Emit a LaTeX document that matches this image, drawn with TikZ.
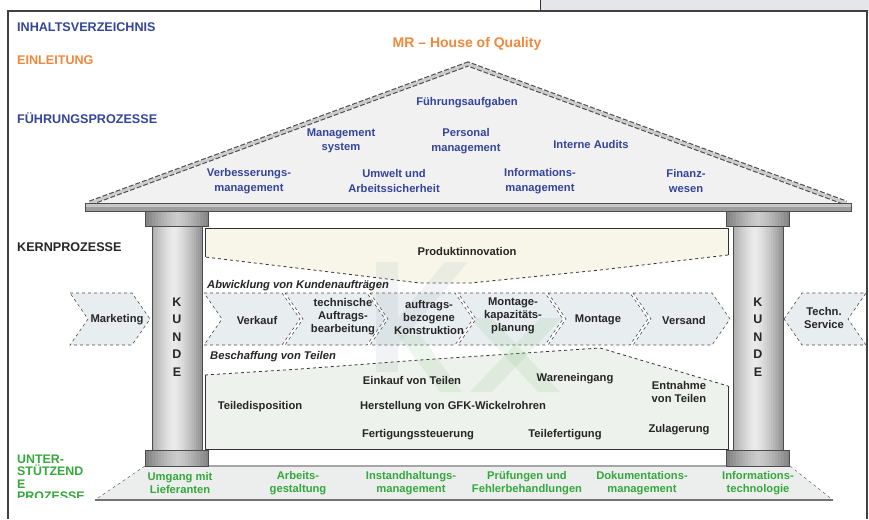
\documentclass[tikz,border=0pt]{standalone}
\usepackage{fontspec}
\setmainfont{Liberation Sans}
\definecolor{myblue}{HTML}{34449A}
\definecolor{myorange}{HTML}{F0883A}
\definecolor{mygreen}{HTML}{34A83A}
\definecolor{cream}{HTML}{F8F6E9}
\definecolor{greenbox}{HTML}{EEF2EC}
\definecolor{chevfill}{HTML}{E8EDF0}
\definecolor{rooffill}{HTML}{F1F1F1}
\definecolor{headgray}{HTML}{E4E6EA}
\definecolor{basefill}{HTML}{ECEEEE}
\definecolor{logogray}{HTML}{9AAAB4}
\definecolor{logogreen}{HTML}{7FBF7F}
\tikzset{
  lbl/.style={font=\bfseries\fontsize{11.2}{13}\selectfont, align=center, inner sep=0pt, text=black!85},
  rooftxt/.style={lbl, text=myblue, font=\bfseries\fontsize{11.2}{14.5}\selectfont},
  basetxt/.style={lbl, text=mygreen, font=\bfseries\fontsize{11.2}{12.5}\selectfont},
  sect/.style={font=\bfseries\fontsize{12.6}{12.6}\selectfont, anchor=west, inner sep=0pt},
  chev/.style={fill=chevfill, draw=black!70, dashed, line width=0.6pt},
  kunde/.style={font=\bfseries\fontsize{12.5}{12.5}\selectfont, inner sep=0pt, text=black!85},
  frameline/.style={black!75, line width=1.2pt},
}
\begin{document}
\begin{tikzpicture}[x=1pt,y=-1pt]
\useasboundingbox (0,0) rectangle (869,519);
% header and frame
\fill[headgray] (540,0) rectangle (869,11);
\draw[black!80] (540,0) -- (540,11);
\draw[frameline] (8,519) -- (8,11) -- (867,11) -- (867,519);

% roof
\fill[rooffill] (88,203) -- (468,63) -- (848,203) -- cycle;
\draw[line width=5pt, black!70, dash pattern=on 5pt off 2pt, line join=miter] (90,203) -- (468,64) -- (846,203);
\draw[line width=2.8pt, gray!40, line join=miter] (90,203) -- (468,64) -- (846,203);
\fill[black!22] (85,203) rectangle (851,207);
\fill[black!38] (85,207) rectangle (851,211);
\draw[black!70] (85,203) rectangle (851,211);

% produktinnovation area
\fill[cream] (205,228) -- (728,228) -- (728,255) -- (600,270) -- (470,283) -- (420,283) -- (330,272) -- (205,257) -- cycle;
\draw[black!80, line width=0.8pt] (205,257) -- (205,228) -- (728,228) -- (728,255);
\draw[black!80, dashed, line width=0.8pt] (728,255) -- (600,270) -- (470,283) -- (420,283) -- (330,272) -- (205,257);

% beschaffung area
\fill[greenbox] (205,375) -- (300,369) -- (420,360) -- (600,348) -- (728,386) -- (728,449) -- (205,449) -- cycle;
\draw[black!80, line width=0.8pt] (728,386) -- (728,449) -- (205,449) -- (205,375);
\draw[black!80, dashed, line width=0.8pt] (205,375) -- (300,369) -- (420,360) -- (600,348) -- (728,386);

% chevrons
\draw[chev] (70,293) -- (132,293) -- (150,319) -- (132,345) -- (70,345) -- (88,319) -- cycle;
\foreach \l/\r in {222/300, 303/385, 388/473, 476/563, 566/648, 651/730}
  \draw[chev] ({\l-18},293) -- ({\r-18},293) -- (\r,319) -- ({\r-18},345) -- ({\l-18},345) -- (\l,319) -- cycle;
\draw[chev] (784,319) -- (802,293) -- (866,293) -- (848,319) -- (866,345) -- (802,345) -- cycle;

% faint logo
\begin{scope}[opacity=0.14]
\fill[logogray] (376,262) rectangle (398,372);
\fill[logogray] (398,318) -- (445,262) -- (468,262) -- (398,345) -- cycle;
\fill[logogreen] (398,335) -- (420,335) -- (462,392) -- (440,392) -- cycle;
\fill[logogreen] (470,318) -- (492,318) -- (560,392) -- (538,392) -- cycle;
\fill[logogreen] (540,318) -- (562,318) -- (492,392) -- (470,392) -- cycle;
\end{scope}

% base platform
\fill[basefill] (145,466) -- (790,466) -- (833,500) -- (95,500) -- cycle;
\draw[black!70, dashed] (145,466) -- (95,500);
\draw[black!70, dashed] (790,466) -- (833,500);
\draw[gray!70, line width=1.2pt] (145,466) -- (790,466);
\draw[black!55, line width=2pt] (95,500) -- (833,500);

% pillars
\foreach \c in {177, 758} {
  \foreach \i in {0,...,24} {
    \pgfmathsetmacro\g{8+34*(abs(\i-10.5)/13.5)^1.4}
    \fill[black!\g] ({\c-25+2*\i},226) rectangle ({\c-22.7+2*\i},450);
  }
  \draw[black!70, line width=0.8pt] ({\c-25},226) rectangle ({\c+25},450);
  \foreach \i in {0,...,20} {
    \pgfmathsetmacro\g{20+28*(abs(\i-10)/10)^1.3}
    \fill[black!\g] ({\c-31.5+3*\i},211) rectangle ({\c-28.2+3*\i},226);
    \fill[black!\g] ({\c-31.5+3*\i},450) rectangle ({\c-28.2+3*\i},466);
  }
  \draw[black!70] ({\c-31.5},211) rectangle ({\c+31.5},226);
  \draw[black!70] ({\c-31.5},450) rectangle ({\c+31.5},466);
}
% KUNDE
\node[kunde] (k1) at (177,302) {K};
\node[kunde] (u1) at (177,319.5) {U};
\node[kunde] (n1) at (177,337) {N};
\node[kunde] (d1) at (177,354.5) {D};
\node[kunde] (e1) at (177,372) {E};
\node[kunde] (k2) at (758,302) {K};
\node[kunde] (u2) at (758,319.5) {U};
\node[kunde] (n2) at (758,337) {N};
\node[kunde] (d2) at (758,354.5) {D};
\node[kunde] (e2) at (758,372) {E};

% section labels
\node[sect, text=myblue] (s1) at (17,27) {INHALTSVERZEICHNIS};
\node[sect, text=myorange] (s2) at (17,60) {EINLEITUNG};
\node[sect, text=myblue] (s3) at (17,118) {FÜHRUNGSPROZESSE};
\node[sect, text=black!85] (s4) at (17,247) {KERNPROZESSE};
\begin{scope}
\clip (0,440) rectangle (140,497);
\node[sect, text=mygreen, align=left, anchor=north west, font=\bfseries\fontsize{12.4}{12.5}\selectfont] (s5) at (17,454.5) {UNTER-\\STÜTZEND\\E\\PROZESSE};
\end{scope}

% title
\node[font=\bfseries\fontsize{14}{14}\selectfont, text=myorange, inner sep=0pt] (title) at (467,44) {MR – House of Quality};

% roof texts
\node[rooftxt] (r1) at (467,103) {Führungsaufgaben};
\node[rooftxt] (r2) at (341,141) {Management\\system};
\node[rooftxt] (r3) at (466,141) {Personal\\management};
\node[rooftxt] (r4) at (591,144) {Interne Audits};
\node[rooftxt] (r5) at (249,181) {Verbesserungs-\\management};
\node[rooftxt] (r6) at (394,181) {Umwelt und\\Arbeitssicherheit};
\node[rooftxt] (r7) at (540,181) {Informations-\\management};
\node[rooftxt] (r8) at (686,181) {Finanz-\\wesen};

% kernprozesse texts
\node[lbl] (pi) at (467,251) {Produktinnovation};
\node[lbl, anchor=west, font=\bfseries\itshape\fontsize{11.2}{13}\selectfont] (abw) at (207,286) {Abwicklung von Kundenaufträgen};
\node[lbl, anchor=west, font=\bfseries\itshape\fontsize{11.2}{13}\selectfont] (bes) at (210,357) {Beschaffung von Teilen};
\node[lbl] (c0) at (117,320) {Marketing};
\node[lbl] (c1) at (257,320) {Verkauf};
\node[lbl] (c2) at (343,317) {technische\\Auftrags-\\bearbeitung};
\node[lbl] (c3) at (429,317) {auftrags-\\bezogene\\Konstruktion};
\node[lbl] (c4) at (513,316) {Montage-\\kapazitäts-\\planung};
\node[lbl] (c5) at (598,320) {Montage};
\node[lbl] (c6) at (684,320) {Versand};
\node[lbl] (c7) at (824,318) {Techn.\\Service};

% beschaffung texts
\node[lbl] (b1) at (412,380) {Einkauf von Teilen};
\node[lbl] (b2) at (575,379) {Wareneingang};
\node[lbl] (b3) at (679,392) {Entnahme\\von Teilen};
\node[lbl] (b4) at (260,407) {Teiledisposition};
\node[lbl] (b5) at (453,407) {Herstellung von GFK-Wickelrohren};
\node[lbl] (b6) at (418,435) {Fertigungssteuerung};
\node[lbl] (b7) at (565,435) {Teilefertigung};
\node[lbl] (b8) at (679,430) {Zulagerung};

% base texts
\node[basetxt] (g1) at (180,483) {Umgang mit\\Lieferanten};
\node[basetxt] (g2) at (298,483) {Arbeits-\\gestaltung};
\node[basetxt] (g3) at (411,483) {Instandhaltungs-\\management};
\node[basetxt] (g4) at (527,483) {Prüfungen und\\Fehlerbehandlungen};
\node[basetxt] (g5) at (642,483) {Dokumentations-\\management};
\node[basetxt] (g6) at (758,483) {Informations-\\technologie};
\end{tikzpicture}
\end{document}
